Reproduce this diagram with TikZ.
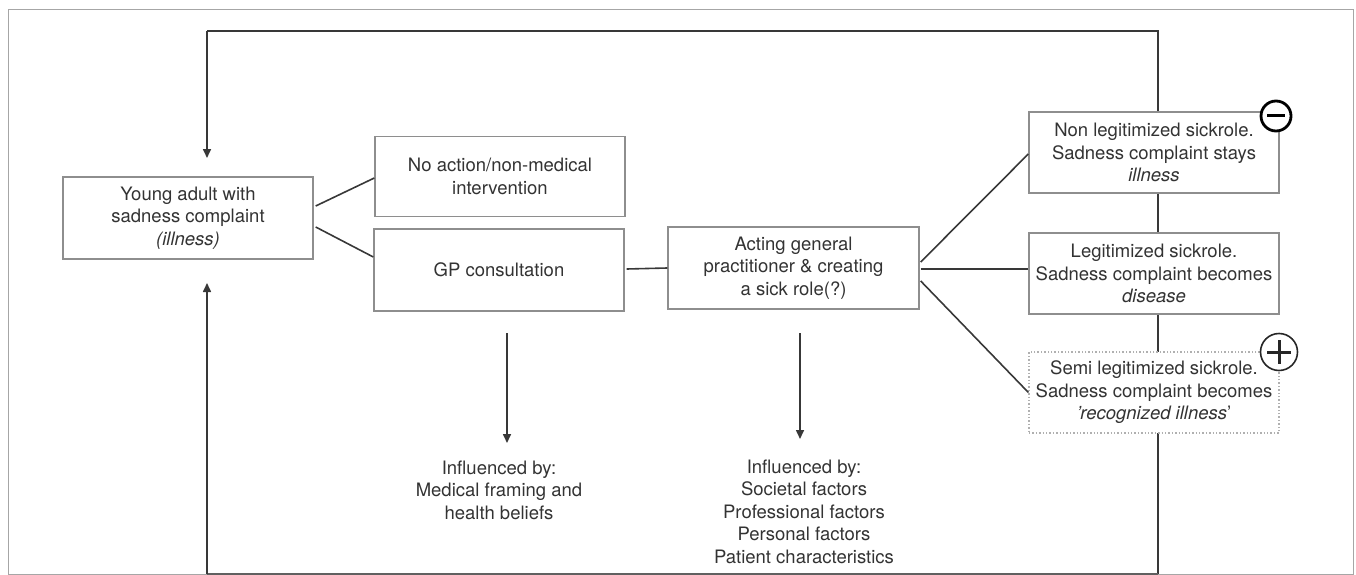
\documentclass[tikz,border=0pt]{standalone}
\usepackage{fontspec}
\setmainfont{TeX Gyre Heros}
\usetikzlibrary{arrows.meta,calc}
\definecolor{txt}{HTML}{333333}
\definecolor{boxline}{HTML}{8E8E8E}
\definecolor{conn}{HTML}{383838}
\begin{document}
\begin{tikzpicture}[x=1pt,y=-1pt,
  box/.style={draw=boxline,line width=1.4pt,fill=white,minimum width=250pt,minimum height=81pt,
    align=center,text=txt,inner sep=0pt,font=\fontsize{18.5}{22.5}\selectfont},
  dotbox/.style={box,draw=boxline!70,dotted,line width=1.2pt},
  conn/.style={draw=conn,line width=1.6pt},
  arr/.style={conn,-{Triangle[length=9pt,width=8pt]}},
  lbl/.style={align=center,text=txt,inner sep=0pt,font=\fontsize{18.5}{22.5}\selectfont}]
\useasboundingbox (0,0) rectangle (1356,575);
% outer frame
\draw[draw=gray!70,line width=1pt] (8,10) rectangle (1353,574);
% feedback loop
\coordinate (tr) at (1158,31);
\coordinate (tl) at (207,31);
\coordinate (br) at (1158,574);
\coordinate (bl) at (207,574);
\coordinate (topend) at (207,158);
\coordinate (botend) at (207,283);
\draw[conn] (br) -- (tr) -- (tl);
\draw[arr] (tl) -- (topend);
\draw[conn,draw=conn!80] (bl) -- (br);
\draw[arr] (bl) -- (botend);
% boxes
\node[box,minimum height=82pt] (young) at (188,218) {Young adult with\\sadness complaint\\\textit{(illness)}};
\node[box,minimum height=80pt] (noact) at (500,176.5) {No action/non-medical\\intervention};
\node[box,minimum height=82pt] (gp) at (499,270) {GP consultation};
\node[box,minimum height=82pt,minimum width=251pt] (acting) at (793.5,268) {Acting general\\practitioner \& creating\\a sick role(?)};
\node[box] (nonleg) at (1154,152.5) {Non legitimized sickrole.\\Sadness complaint stays\\\textit{illness}};
\node[box] (leg) at (1154,273.5) {Legitimized sickrole.\\Sadness complaint becomes\\\textit{disease}};
\node[dotbox] (semi) at (1154,392.5) {Semi legitimized sickrole.\\Sadness complaint becomes\\\textit{'recognized illness}'};
% signs
\node[circle,draw=black,line width=2.8pt,fill=white,minimum size=30pt,inner sep=0pt] (minus) at (1276,116) {};
\draw[line width=3pt] ($(minus.center)+(-9,0)$) -- ($(minus.center)+(9,0)$);
\node[circle,draw=black!85,line width=1.6pt,fill=white,minimum size=37pt,inner sep=0pt] (plus) at (1279,352) {};
\draw[line width=3pt,black!85] ($(plus.center)+(-12,0)$) -- ($(plus.center)+(12,0)$);
\draw[line width=3pt,black!85] ($(plus.center)+(0,-12)$) -- ($(plus.center)+(0,12)$);
% connectors
\coordinate (ae) at ($(acting.east)+(1,1)$);
\draw[conn] ($(young.east)+(2,-12)$) -- ($(noact.west)+(0,1.5)$);
\draw[conn] ($(young.east)+(2,9)$) -- ($(gp.west)+(0,-13)$);
\draw[conn] ($(gp.east)+(2,-1)$) -- (acting.west);
\draw[conn] ($(acting.east)+(1,-6)$) -- ($(nonleg.west)+(0,1.5)$);
\draw[conn] (ae) -- (ae -| leg.west);
\draw[conn] ($(acting.east)+(1,13)$) -- (semi.west);
% influence arrows
\node[lbl] (infl1) at (499,490) {Influenced by:\\Medical framing and\\health beliefs};
\node[lbl] (infl2) at (804,511.5) {Influenced by:\\Societal factors\\Professional factors\\Personal factors\\Patient characteristics};
\coordinate (a1s) at (507,333);
\coordinate (a1e) at (507,443);
\coordinate (a2s) at (800,333);
\coordinate (a2e) at (800,439);
\draw[arr] (a1s) -- (a1e);
\draw[arr] (a2s) -- (a2e);
\end{tikzpicture}
\end{document}
